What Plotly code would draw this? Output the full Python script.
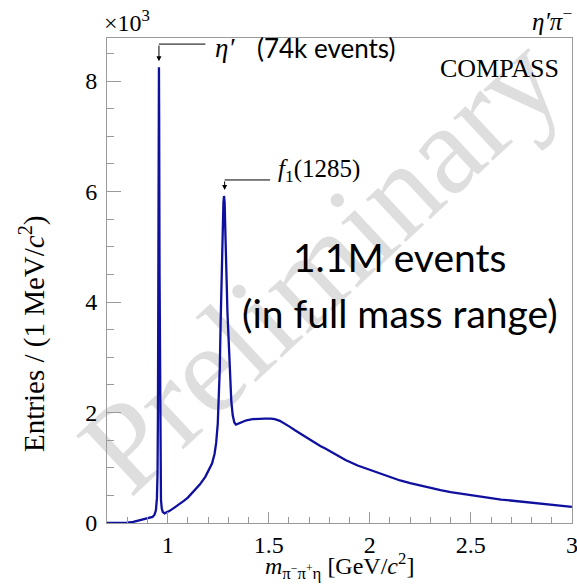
import plotly.graph_objects as go

# pi- pi+ eta invariant mass spectrum (1 MeV/c^2 bins), read as (mass, entries) points
mass = [
    0.700, 0.780, 0.800, 0.830, 0.860, 0.890, 0.910, 0.925, 0.935, 0.942,
    0.947, 0.950, 0.952, 0.954, 0.956, 0.957, 0.958, 0.960, 0.962, 0.964,
    0.967, 0.971, 0.976, 0.985, 0.995, 1.010, 1.030, 1.056, 1.080, 1.100,
    1.120, 1.140, 1.160, 1.187, 1.205, 1.220, 1.232, 1.240, 1.248, 1.254,
    1.258, 1.262, 1.267, 1.272, 1.276, 1.279, 1.282, 1.286, 1.290, 1.296,
    1.302, 1.308, 1.315, 1.322, 1.330, 1.338, 1.350, 1.370, 1.390, 1.420,
    1.450, 1.480, 1.510, 1.530, 1.555, 1.580, 1.605, 1.630, 1.655, 1.680,
    1.705, 1.730, 1.755, 1.780, 1.805, 1.830, 1.880, 1.940, 2.000, 2.050,
    2.100, 2.150, 2.200, 2.250, 2.300, 2.350, 2.400, 2.450, 2.500, 2.550,
    2.600, 2.650, 2.700, 2.750, 2.800, 2.850, 2.900, 2.950, 3.000,
]
entries = [
    0, 0, 5, 20, 50, 75, 95, 110, 150, 230,
    450, 900, 2000, 4300, 7300, 8250, 7400, 4500, 2100, 900,
    420, 260, 200, 175, 190, 220, 270, 330, 400, 460,
    540, 610, 700, 840, 960, 1080, 1250, 1450, 1800, 2300,
    2800, 3600, 4500, 5300, 5800, 5920, 5800, 5200, 4550, 3800,
    3300, 2700, 2200, 1950, 1820, 1780, 1800, 1840, 1860, 1880,
    1890, 1890, 1890, 1880, 1850, 1800, 1740, 1680, 1620, 1560,
    1500, 1440, 1395, 1350, 1300, 1240, 1140, 1040, 960, 890,
    830, 770, 720, 675, 630, 595, 560, 530, 500, 475,
    450, 425, 405, 385, 360, 340, 320, 305, 290,
]

# labelled resonance positions (GeV/c^2)
eta_prime_mass = 0.957
f1_mass = 1.282

x_ticks = [1, 1.5, 2, 2.5, 3]
x_tick_text = ["1", "1.5", "2", "2.5", "3"]
y_ticks = [0, 2000, 4000, 6000, 8000]
y_tick_text = ["0", "2", "4", "6", "8"]

SERIF = "Liberation Serif"
SANS = "Lato"
FRAME = "#9a9a9a"

fig = go.Figure()
fig.add_trace(go.Scatter(
    x=mass, y=entries, mode="lines",
    line=dict(color="#10109e", width=2.3),
    hoverinfo="skip", showlegend=False,
))

fig.update_layout(
    width=577, height=585,
    margin=dict(l=107, r=5, t=38, b=62),
    paper_bgcolor="white", plot_bgcolor="white",
    font=dict(family=SERIF, color="black"),
    xaxis=dict(
        range=[0.7, 3.0005], tickvals=x_ticks, ticktext=x_tick_text,
        ticks="inside", ticklen=11, tickcolor=FRAME, tickwidth=1,
        showline=True, linecolor=FRAME, linewidth=1, mirror=True,
        showgrid=False, zeroline=False, automargin=False,
        ticklabeloverflow="allow",
        tickfont=dict(family=SERIF, size=24, color="black"),
        ticklabelstandoff=0,
        minor=dict(dtick=0.1, tick0=0, ticks="inside", ticklen=6,
                   tickcolor=FRAME, showgrid=False),
    ),
    yaxis=dict(
        range=[0, 8780], tickvals=y_ticks, ticktext=y_tick_text,
        ticks="inside", ticklen=14, tickcolor=FRAME, tickwidth=1,
        showline=True, linecolor=FRAME, linewidth=1, mirror=True,
        showgrid=False, zeroline=False, automargin=False,
        tickfont=dict(family=SERIF, size=24, color="black"),
        ticklabelstandoff=4,
        minor=dict(dtick=500, tick0=0, ticks="inside", ticklen=7,
                   tickcolor=FRAME, showgrid=False),
    ),
)

# "Preliminary" watermark, drawn beneath the histogram
fig.add_shape(
    type="line", xref="paper", yref="paper",
    x0=0.03, y0=-0.06, x1=1.05, y1=0.95,
    line=dict(color="rgba(0,0,0,0)", width=0),
    layer="below",
    label=dict(text="Preliminary", textposition="middle", textangle=-43,
               font=dict(family=SERIF, size=127, color="#dedede")),
)

# resonance markers: horizontal leader then a short downward arrow
fig.add_shape(type="line", x0=eta_prime_mass, x1=1.187, y0=8670, y1=8670,
              line=dict(color="black", width=1))
fig.add_annotation(x=eta_prime_mass, y=8360, ax=eta_prime_mass, ay=8670,
                   xref="x", yref="y", axref="x", ayref="y", text="",
                   showarrow=True, arrowhead=2, arrowsize=1, arrowwidth=1,
                   arrowcolor="black")
fig.add_shape(type="line", x0=f1_mass, x1=1.507, y0=6210, y1=6210,
              line=dict(color="black", width=1))
fig.add_annotation(x=f1_mass, y=6030, ax=f1_mass, ay=6210,
                   xref="x", yref="y", axref="x", ayref="y", text="",
                   showarrow=True, arrowhead=2, arrowsize=1, arrowwidth=1,
                   arrowcolor="black")

texts = [
    # (text, x, y, xanchor, yanchor, family, size)
    ("<i>η′</i>", 1.222, 8600, "left", "middle", SERIF, 27),
    ("(74k events)", 1.43, 8600, "left", "middle", SANS, 26),
    ("<i>f</i><sub>1</sub>(1285)", 1.535, 6380, "left", "middle", SERIF, 25),
]
for t, x, y, xa, ya, fam, sz in texts:
    fig.add_annotation(x=x, y=y, xref="x", yref="y", text=t, showarrow=False,
                       xanchor=xa, yanchor=ya, font=dict(family=fam, size=sz))

paper_texts = [
    ("COMPASS", 0.977, 0.972, "right", "top", SERIF, 26),
    ("×10<sup>3</sup>", -0.01, 1.0, "left", "bottom", SERIF, 24),
    ("<i>η′π</i><sup>−</sup>", 1.005, 1.003, "right", "bottom", SERIF, 25),
    ("1.1M events", 0.63, 0.548, "center", "middle", SANS, 39),
    ("(in full mass range)", 0.63, 0.432, "center", "middle", SANS, 39),
    ("<i>m</i><sub>π<sup>−</sup>π<sup>+</sup>η</sub> [GeV/<i>c</i><sup>2</sup>]",
     0.5, -0.128, "center", "bottom", SERIF, 24),
]
for t, x, y, xa, ya, fam, sz in paper_texts:
    fig.add_annotation(x=x, y=y, xref="paper", yref="paper", text=t,
                       showarrow=False, xanchor=xa, yanchor=ya,
                       font=dict(family=fam, size=sz))

fig.add_annotation(
    x=-0.159, y=0.39, xref="paper", yref="paper",
    text="Entries / (1 MeV/<i>c</i><sup>2</sup>)", textangle=-90,
    showarrow=False, xanchor="center", yanchor="middle",
    font=dict(family=SERIF, size=29),
)

fig.write_html("out.html")
